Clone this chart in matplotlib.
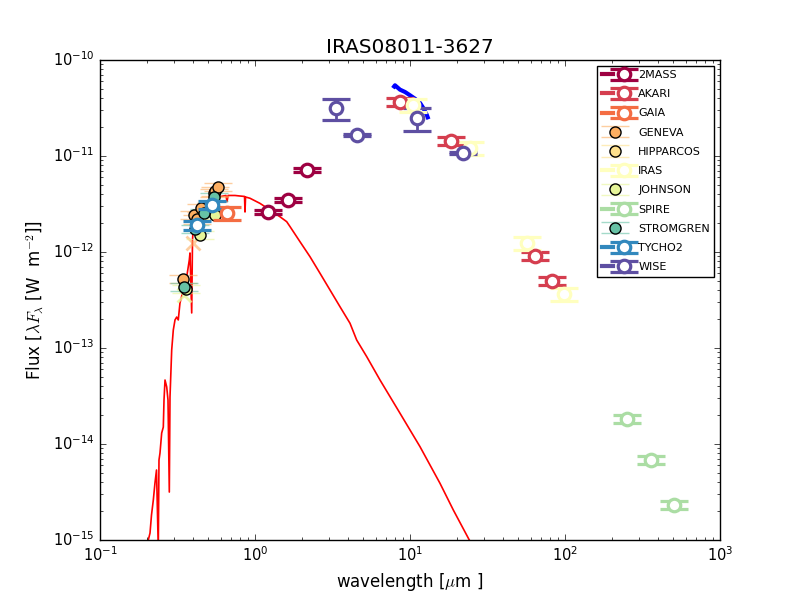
import matplotlib
matplotlib.use("Agg")
import matplotlib.pyplot as plt
import matplotlib.colors as mcolors
from matplotlib.lines import Line2D
from matplotlib.legend_handler import HandlerTuple

plt.style.use('classic')
plt.rcParams['mathtext.fontset'] = 'cm'

# ---- model spectrum (red) ----
model_wl = [0.198, 0.2049, 0.2102, 0.2149, 0.2208, 0.2263, 0.2315, 0.2377, 0.2402, 0.2438,
            0.2500, 0.2561, 0.2588, 0.2627, 0.2694, 0.2746, 0.2800, 0.2829, 0.2901, 0.2971,
            0.3047, 0.3124, 0.3199, 0.3280, 0.3446, 0.3625, 0.3768, 0.3807, 0.3905, 0.3952,
            0.3998, 0.4206, 0.4416, 0.4756, 0.5125, 0.5519, 0.5944, 0.650, 0.660, 0.670,
            0.743, 0.800, 0.856, 0.862, 0.869, 0.928, 1.077, 1.250, 1.449, 1.601,
            1.682, 1.951, 2.264, 2.627, 3.047, 3.535, 4.101, 4.530, 5.256, 6.405,
            8.62, 11.60, 15.62, 19.04, 24.13, 28.3]
model_flux = [6.19e-16, 1.0e-15, 1.18e-15, 1.82e-15, 2.61e-15, 3.93e-15, 5.36e-15, 8.0e-16, 6.81e-15, 8.05e-15,
              1.30e-14, 1.50e-14, 2.87e-14, 4.64e-14, 3.93e-14, 2.87e-14, 3.16e-15, 3.09e-14, 9.53e-14, 1.54e-13,
              1.96e-13, 2.10e-13, 1.96e-13, 2.94e-13, 4.02e-13, 5.49e-13, 8.25e-13, 9.77e-13, 2.32e-13, 1.33e-12,
              1.82e-12, 2.15e-12, 2.49e-12, 2.94e-12, 3.32e-12, 3.56e-12, 3.77e-12, 3.88e-12, 3.34e-12, 3.88e-12,
              3.88e-12, 3.83e-12, 3.79e-12, 2.61e-12, 3.74e-12, 3.63e-12, 3.21e-12, 2.74e-12, 2.33e-12, 2.07e-12,
              1.84e-12, 1.28e-12, 8.93e-13, 6.0e-13, 4.02e-13, 2.69e-13, 1.81e-13, 1.21e-13, 8.13e-14, 4.64e-14,
              2.09e-14, 9.38e-15, 3.89e-15, 2.05e-15, 1.0e-15, 6.2e-16]

# ---- IR spectrum (blue) ----
spec_wl = [7.9, 8.00, 8.62, 9.29, 10.0, 10.77, 11.60, 12.18, 12.82, 13.01]
spec_flux = [5.3e-11, 5.45e-11, 4.91e-11, 4.64e-11, 4.29e-11, 3.95e-11, 3.57e-11, 3.16e-11, 2.69e-11, 2.53e-11]

# ---- photometry ----
mass2_wl = [1.21, 1.63, 2.16]
mass2_flux = [2.61e-12, 3.48e-12, 7.15e-12]
mass2_err = [0.13e-12, 0.17e-12, 0.36e-12]

akari_wl = [8.6, 18.4, 64.0, 82.0]
akari_flux = [3.65e-11, 1.43e-11, 9.1e-13, 4.99e-13]
akari_err = [0.36e-11, 0.14e-11, 0.9e-13, 0.5e-13]

gaia_wl = [0.656]
gaia_flux = [2.53e-12]
gaia_err = [0.38e-12]

geneva_wl = [0.343, 0.402, 0.423, 0.448, 0.54, 0.55, 0.58]
geneva_flux = [5.24e-13, 2.43e-12, 2.2e-12, 2.87e-12, 4.12e-12, 4.3e-12, 4.75e-12]
geneva_err = [0.5e-13, 0.24e-12, 0.22e-12, 0.29e-12, 0.41e-12, 0.43e-12, 0.47e-12]

hip_wl = [0.517]
hip_flux = [3.0e-12]
hip_err = [0.3e-12]

iras_wl = [10.4, 24.4, 56.9, 98.6]
iras_flux = [3.4e-11, 1.21e-11, 1.24e-12, 3.65e-13]
iras_err = [0.5e-11, 0.18e-11, 0.19e-12, 0.55e-13]

johnson_wl = [0.36, 0.44, 0.55]
johnson_flux = [4.12e-13, 1.50e-12, 2.43e-12]
johnson_err = [0.4e-13, 0.15e-12, 0.24e-12]

spire_wl = [251.0, 359.0, 505.0]
spire_flux = [1.82e-14, 6.8e-15, 2.32e-15]
spire_err = [0.18e-14, 0.68e-15, 0.23e-15]

strom_wl = [0.35, 0.411, 0.467, 0.547]
strom_flux = [4.31e-13, 1.74e-12, 2.55e-12, 3.74e-12]
strom_err = [0.43e-13, 0.17e-12, 0.25e-12, 0.37e-12]

tycho_wl = [0.42, 0.526]
tycho_flux = [1.91e-12, 3.09e-12]
tycho_err = [0.2e-12, 0.3e-12]

wise_wl = [3.33, 4.55, 11.1, 22.0]
wise_flux = [3.16e-11, 1.66e-11, 2.49e-11, 1.07e-11]
wise_err = [0.78e-11, 0.05e-11, 0.67e-11, 0.03e-11]

flag_wl = [0.40, 0.35]
flag_flux = [1.24e-12, 3.56e-13]

colors = {'2MASS': '#9e0142', 'AKARI': '#d53e4f', 'GAIA': '#f46d43', 'GENEVA': '#fdae61',
          'HIPPARCOS': '#fee08b', 'IRAS': '#ffffbf', 'JOHNSON': '#e6f598', 'SPIRE': '#abdda4',
          'STROMGREN': '#66c2a5', 'TYCHO2': '#3288bd', 'WISE': '#5e4fa2'}

series = [
    ('2MASS', mass2_wl, mass2_flux, mass2_err, 'open'),
    ('AKARI', akari_wl, akari_flux, akari_err, 'open'),
    ('GAIA', gaia_wl, gaia_flux, gaia_err, 'open'),
    ('GENEVA', geneva_wl, geneva_flux, geneva_err, 'filled'),
    ('HIPPARCOS', hip_wl, hip_flux, hip_err, 'filled'),
    ('IRAS', iras_wl, iras_flux, iras_err, 'open'),
    ('JOHNSON', johnson_wl, johnson_flux, johnson_err, 'filled'),
    ('SPIRE', spire_wl, spire_flux, spire_err, 'open'),
    ('STROMGREN', strom_wl, strom_flux, strom_err, 'filled'),
    ('TYCHO2', tycho_wl, tycho_flux, tycho_err, 'open'),
    ('WISE', wise_wl, wise_flux, wise_err, 'open'),
]

fig = plt.figure(figsize=(8, 6), dpi=100)
ax = fig.add_subplot(111)

ax.plot(model_wl, model_flux, '-', color='red', lw=1.2, zorder=1)
ax.plot(spec_wl, spec_flux, '-', color='blue', lw=3, zorder=2)

ax.plot(flag_wl[:1], flag_flux[:1], 'x', color=colors['GENEVA'], ms=10, mew=2, alpha=0.6, zorder=2)
ax.plot(flag_wl[1:], flag_flux[1:], 'x', color=colors['JOHNSON'], ms=10, mew=2, alpha=0.8, zorder=2)

handles = []
labels = []
for name, wl, fl, er, kind in series:
    c = colors[name]
    if kind == 'open':
        cont = ax.errorbar(wl, fl, yerr=er, fmt='o', mfc='white', mec=c, mew=2.3, ms=9,
                           ecolor=c, elinewidth=2, capsize=10, capthick=3, zorder=4)
        hl = Line2D([], [], color=c, lw=3)
        handles.append((hl, cont))
    else:
        ec = mcolors.to_rgba(c, 0.6)
        cont = ax.errorbar(wl, fl, yerr=er, fmt='o', mfc=c, mec='k', mew=1, ms=8,
                           ecolor=ec, elinewidth=1, capsize=10, capthick=1, zorder=3)
        handles.append(cont)
    labels.append(name)

ax.set_xscale('log')
ax.set_yscale('log')
ax.set_xlim(0.1, 1000)
ax.set_ylim(1e-15, 1e-10)
ax.tick_params(axis='both', which='major', labelsize=10.5)
ax.set_title('IRAS08011-3627', fontsize=14.4)
ax.set_xlabel(r'wavelength [$\mu$m ]', fontsize=12)
ax.set_ylabel(r'Flux [$\lambda F_\lambda$ [W  m$^{-2}$]]', fontsize=12)

leg = ax.legend(handles, labels, loc='upper right', fontsize=8, numpoints=1,
                handlelength=2.5, labelspacing=0.83, fancybox=False,
                handler_map={tuple: HandlerTuple(ndivide=None)})

fig.savefig('out.png', dpi=100, facecolor='white')
